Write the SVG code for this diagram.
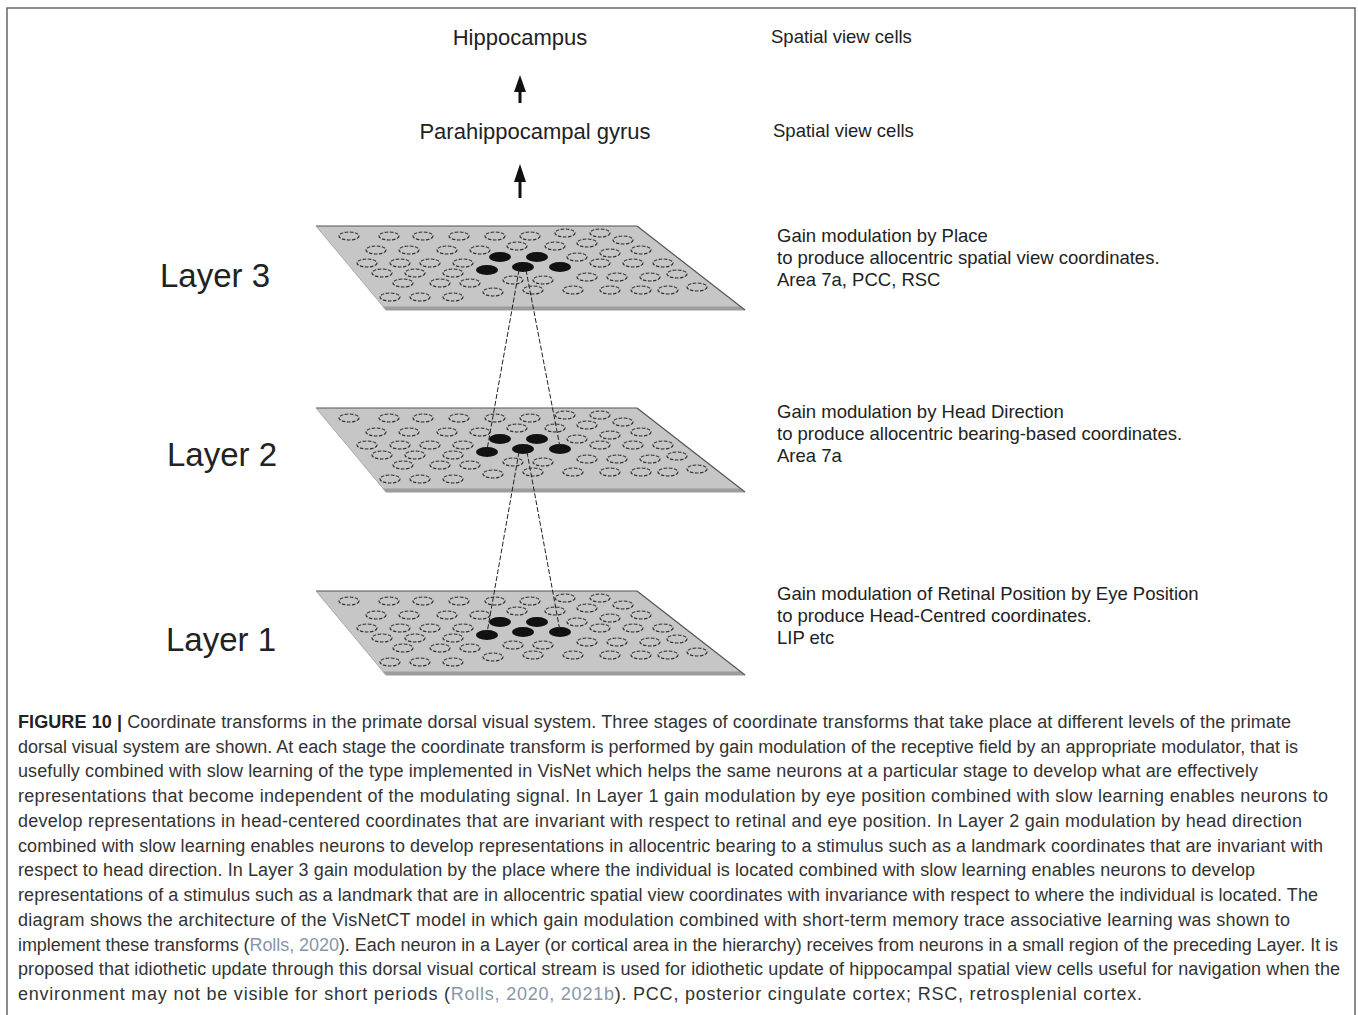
<svg xmlns="http://www.w3.org/2000/svg" xmlns:xlink="http://www.w3.org/1999/xlink" width="1358" height="1015" viewBox="0 0 1358 1015">
<style>
.lbl{font-family:"Liberation Sans",Arial,sans-serif;fill:#222}
.big{font-size:22px}
.side{font-size:18.5px}
.layer{font-size:33px}
.cap{font-family:"Liberation Sans",Arial,sans-serif;font-size:18px;fill:#333}
.link{fill:#8796a8}
.c{fill:none;stroke:#333;stroke-width:1.2;stroke-dasharray:3.5 1.5}
.f{fill:#111}
.dash{fill:none;stroke:#222;stroke-width:1;stroke-dasharray:5 2}
.shaft{stroke:#111;stroke-width:3}
.head{fill:#111}
</style>
<defs>
<g id="plane">
<polygon points="0,0 321,0 429,84 70,84" fill="#c6c6c6"/>
<polygon points="66.5,80.5 423.9,80.5 429,84.5 70,84.5" fill="#9c9c9c"/>
<line x1="0" y1="0" x2="321" y2="0" stroke="#555" stroke-width="1.2"/>
<line x1="321" y1="0" x2="429" y2="84" stroke="#555" stroke-width="1.2"/>
<line x1="0" y1="0" x2="70" y2="84" stroke="#aaa" stroke-width="1"/>
<g class="c">
<ellipse cx="33" cy="10" rx="10" ry="4"/><ellipse cx="73" cy="10" rx="10" ry="4"/><ellipse cx="107" cy="10" rx="10" ry="4"/><ellipse cx="143" cy="10" rx="10" ry="4"/><ellipse cx="179" cy="10" rx="10" ry="4"/><ellipse cx="214" cy="10" rx="10" ry="4"/><ellipse cx="249" cy="7" rx="10" ry="4"/><ellipse cx="284" cy="7" rx="10" ry="4"/><ellipse cx="307" cy="14" rx="10" ry="4"/>
<ellipse cx="60" cy="24" rx="10" ry="4"/><ellipse cx="93" cy="24" rx="10" ry="4"/><ellipse cx="131" cy="24" rx="10" ry="4"/><ellipse cx="164" cy="24" rx="10" ry="4"/><ellipse cx="201" cy="20" rx="10" ry="4"/><ellipse cx="239" cy="20" rx="10" ry="4"/><ellipse cx="271" cy="17" rx="10" ry="4"/><ellipse cx="294" cy="27" rx="10" ry="4"/><ellipse cx="325" cy="24" rx="10" ry="4"/>
<ellipse cx="51" cy="37" rx="10" ry="4"/><ellipse cx="84" cy="37" rx="10" ry="4"/><ellipse cx="114" cy="37" rx="10" ry="4"/><ellipse cx="147" cy="37" rx="10" ry="4"/><ellipse cx="261" cy="31" rx="10" ry="4"/><ellipse cx="284" cy="37" rx="10" ry="4"/><ellipse cx="317" cy="37" rx="10" ry="4"/><ellipse cx="347" cy="37" rx="10" ry="4"/>
<ellipse cx="66" cy="47" rx="10" ry="4"/><ellipse cx="99" cy="47" rx="10" ry="4"/><ellipse cx="137" cy="47" rx="10" ry="4"/><ellipse cx="271" cy="51" rx="10" ry="4"/><ellipse cx="301" cy="51" rx="10" ry="4"/><ellipse cx="334" cy="51" rx="10" ry="4"/><ellipse cx="361" cy="48" rx="10" ry="4"/>
<ellipse cx="197" cy="54" rx="10" ry="4"/><ellipse cx="227" cy="54" rx="10" ry="4"/>
<ellipse cx="87" cy="57" rx="10" ry="4"/><ellipse cx="124" cy="57" rx="10" ry="4"/><ellipse cx="154" cy="57" rx="10" ry="4"/>
<ellipse cx="74" cy="71" rx="10" ry="4"/><ellipse cx="104" cy="71" rx="10" ry="4"/><ellipse cx="137" cy="71" rx="10" ry="4"/><ellipse cx="177" cy="66" rx="10" ry="4"/><ellipse cx="217" cy="64" rx="10" ry="4"/><ellipse cx="257" cy="64" rx="10" ry="4"/><ellipse cx="294" cy="64" rx="10" ry="4"/><ellipse cx="325" cy="64" rx="10" ry="4"/><ellipse cx="352" cy="64" rx="10" ry="4"/><ellipse cx="381" cy="61" rx="10" ry="4"/>
</g>
<g class="f">
<ellipse cx="184" cy="31" rx="11" ry="5"/><ellipse cx="221" cy="31" rx="11" ry="5"/><ellipse cx="171" cy="44" rx="11" ry="5"/><ellipse cx="207" cy="41" rx="11" ry="5"/><ellipse cx="244" cy="41" rx="11" ry="5"/>
</g>
</g>
</defs>
<rect width="1358" height="1015" fill="#fff"/>
<path d="M7,1015 V8 H1355 V1015" fill="none" stroke="#666" stroke-width="1.5"/>

<g id="hippocampus"><text class="lbl big" x="520" y="45" text-anchor="middle">Hippocampus</text><text class="lbl side" x="771" y="43">Spatial view cells</text></g>
<g id="parahippocampal"><text class="lbl big" x="535" y="139" text-anchor="middle">Parahippocampal gyrus</text><text class="lbl side" x="773" y="137">Spatial view cells</text></g>

<g id="layer3"><use xlink:href="#plane" x="316" y="226"/><text class="lbl layer" x="160" y="287">Layer 3</text>
<text class="lbl side" x="777" y="242">Gain modulation by Place</text><text class="lbl side" x="777" y="264">to produce allocentric spatial view coordinates.</text><text class="lbl side" x="777" y="286">Area 7a, PCC, RSC</text></g>
<g id="layer2"><use xlink:href="#plane" x="316" y="408"/><text class="lbl layer" x="167" y="466">Layer 2</text>
<text class="lbl side" x="777" y="418">Gain modulation by Head Direction</text><text class="lbl side" x="777" y="440">to produce allocentric bearing-based coordinates.</text><text class="lbl side" x="777" y="462">Area 7a</text></g>
<g id="layer1"><use xlink:href="#plane" x="316" y="591"/><text class="lbl layer" x="166" y="651">Layer 1</text>
<text class="lbl side" x="777" y="600">Gain modulation of Retinal Position by Eye Position</text><text class="lbl side" x="777" y="622">to produce Head-Centred coordinates.</text><text class="lbl side" x="777" y="644">LIP etc</text></g>

<g id="connectors">
<line class="shaft" x1="520" y1="103" x2="520" y2="88"/>
<polygon class="head" points="520,75 526,92 514,92"/>
<line class="shaft" x1="520" y1="198" x2="520" y2="180"/>
<polygon class="head" points="520,164 526,182 514,182"/>
<line class="dash" x1="519" y1="270" x2="487" y2="450"/>
<line class="dash" x1="526" y1="270" x2="560" y2="447"/>
<line class="dash" x1="519" y1="452" x2="487" y2="633"/>
<line class="dash" x1="527" y1="452" x2="560" y2="631"/>
</g>

<g id="caption">
<text class="cap" x="18" y="728" textLength="1273" lengthAdjust="spacing"><tspan font-weight="bold" fill="#222">FIGURE 10 | </tspan>Coordinate transforms in the primate dorsal visual system. Three stages of coordinate transforms that take place at different levels of the primate</text>
<text class="cap" x="18" y="753" textLength="1280" lengthAdjust="spacing">dorsal visual system are shown. At each stage the coordinate transform is performed by gain modulation of the receptive field by an appropriate modulator, that is</text>
<text class="cap" x="18" y="777" textLength="1240" lengthAdjust="spacing">usefully combined with slow learning of the type implemented in VisNet which helps the same neurons at a particular stage to develop what are effectively</text>
<text class="cap" x="18" y="802" textLength="1310" lengthAdjust="spacing">representations that become independent of the modulating signal. In Layer 1 gain modulation by eye position combined with slow learning enables neurons to</text>
<text class="cap" x="18" y="827" textLength="1284" lengthAdjust="spacing">develop representations in head-centered coordinates that are invariant with respect to retinal and eye position. In Layer 2 gain modulation by head direction</text>
<text class="cap" x="18" y="852" textLength="1305" lengthAdjust="spacing">combined with slow learning enables neurons to develop representations in allocentric bearing to a stimulus such as a landmark coordinates that are invariant with</text>
<text class="cap" x="18" y="876" textLength="1237" lengthAdjust="spacing">respect to head direction. In Layer 3 gain modulation by the place where the individual is located combined with slow learning enables neurons to develop</text>
<text class="cap" x="18" y="901" textLength="1300" lengthAdjust="spacing">representations of a stimulus such as a landmark that are in allocentric spatial view coordinates with invariance with respect to where the individual is located. The</text>
<text class="cap" x="18" y="926" textLength="1272" lengthAdjust="spacing">diagram shows the architecture of the VisNetCT model in which gain modulation combined with short-term memory trace associative learning was shown to</text>
<text class="cap" x="18" y="951" textLength="1320" lengthAdjust="spacing">implement these transforms (<tspan class="link">Rolls, 2020</tspan>). Each neuron in a Layer (or cortical area in the hierarchy) receives from neurons in a small region of the preceding Layer. It is</text>
<text class="cap" x="18" y="975" textLength="1322" lengthAdjust="spacing">proposed that idiothetic update through this dorsal visual cortical stream is used for idiothetic update of hippocampal spatial view cells useful for navigation when the</text>
<text class="cap" x="18" y="1000" textLength="1124" lengthAdjust="spacing">environment may not be visible for short periods (<tspan class="link">Rolls, 2020, 2021b</tspan>). PCC, posterior cingulate cortex; RSC, retrosplenial cortex.</text>
</g>
</svg>
